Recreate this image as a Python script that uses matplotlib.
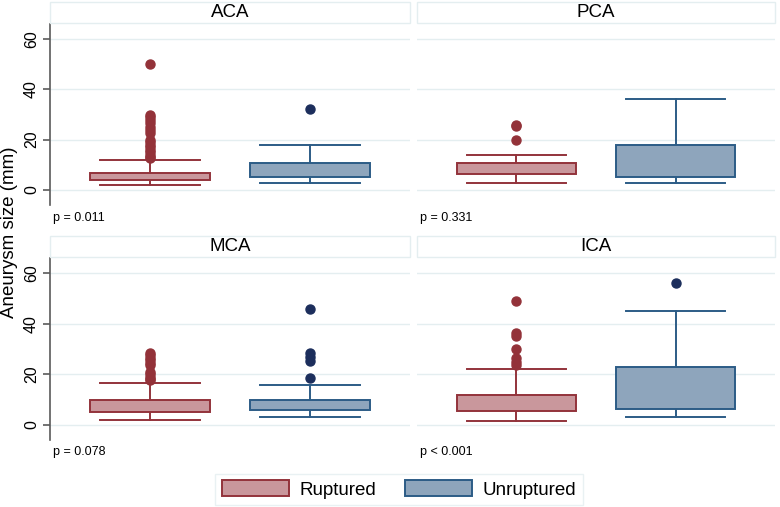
import matplotlib.pyplot as plt
from matplotlib.patches import Patch, Rectangle

plt.rcParams['font.family'] = ['Liberation Sans', 'DejaVu Sans']

# datos (mm)
regiones = ['ACA', 'PCA', 'MCA', 'ICA']
p_valores = ['p = 0.011', 'p = 0.331', 'p = 0.078', 'p < 0.001']

rot_q1 = [4.0, 6.5, 5.0, 5.3]
rot_med = [5.4, 7.8, 6.2, 8.2]
rot_q3 = [6.9, 10.7, 9.8, 11.9]
rot_lo = [1.9, 2.9, 2.0, 1.6]
rot_hi = [12.0, 13.9, 16.5, 22.2]
rot_out = [
    [50, 30, 29, 28, 26.5, 25, 24, 22.5, 20, 19, 18, 17, 16, 15, 14, 13, 12.5],
    [26, 25.3, 19.8],
    [28.5, 27.7, 26.5, 25.5, 24.5, 23.5, 21, 20, 19, 18.3, 17.6],
    [49, 36.3, 35, 30, 26.4, 25, 23.5],
]

unr_q1 = [5.0, 5.3, 5.7, 6.2]
unr_med = [7.5, 10.4, 8.2, 12.1]
unr_q3 = [10.6, 17.8, 9.9, 22.8]
unr_lo = [2.6, 2.6, 3.0, 3.0]
unr_hi = [17.8, 36.3, 15.6, 45.1]
unr_out = [[32], [], [46, 28.4, 27, 25.2, 18.7], [56]]

rojo_borde = '#93333b'
rojo_relleno = '#c9979c'
rojo_punto = '#933239'
azul_borde = '#2c5c86'
azul_relleno = '#8ea5bc'
azul_punto = '#1c2e5c'
gris_claro = '#e4eef0'

W, H = 780, 507
fig = plt.figure(figsize=(W / 100, H / 100), dpi=100)


def fx(px):
    return px / W


def fy(py):
    return 1 - py / H


# posiciones de paneles en pixeles: (x0, x1, y0, y1, y_titulo0, y_titulo1, y_p)
paneles = [
    (50, 410, 24, 205, 2, 23, 218),
    (417, 775, 24, 205, 2, 23, 218),
    (50, 410, 258, 440, 236, 257, 452),
    (417, 775, 258, 440, 236, 257, 452),
]

for i, (x0, x1, y0, y1, t0, t1, yp) in enumerate(paneles):
    ax = fig.add_axes([fx(x0), fy(y1), fx(x1 - x0), (y1 - y0) / H])

    stats = [
        dict(q1=rot_q1[i], med=rot_med[i], q3=rot_q3[i],
             whislo=rot_lo[i], whishi=rot_hi[i], fliers=rot_out[i]),
        dict(q1=unr_q1[i], med=unr_med[i], q3=unr_q3[i],
             whislo=unr_lo[i], whishi=unr_hi[i], fliers=unr_out[i]),
    ]
    bordes = [rojo_borde, azul_borde]
    rellenos = [rojo_relleno, azul_relleno]
    puntos = [rojo_punto, azul_punto]

    for j in range(2):
        r = ax.bxp([stats[j]], positions=[j + 1], widths=0.75, patch_artist=True,
                   capwidths=0.625, manage_ticks=False,
                   boxprops=dict(facecolor=rellenos[j], edgecolor=bordes[j], linewidth=1.4),
                   medianprops=dict(color=bordes[j], linewidth=1.4),
                   whiskerprops=dict(color=bordes[j], linewidth=1.4),
                   capprops=dict(color=bordes[j], linewidth=1.4),
                   flierprops=dict(marker='o', markersize=6.5, markerfacecolor=puntos[j],
                                   markeredgecolor=puntos[j]))
        for b in r['boxes']:
            b.set_zorder(3)

    ax.set_xlim(0.375, 2.625)
    ax.set_ylim(-6, 66)
    ax.set_yticks([0, 20, 40, 60])
    ax.grid(axis='y', color=gris_claro, linewidth=1)
    ax.set_axisbelow(True)
    ax.set_xticks([])
    for s in ['top', 'right', 'bottom']:
        ax.spines[s].set_visible(False)
    if i % 2 == 0:
        ax.spines['left'].set_color('#5a5a5a')
        ax.spines['left'].set_linewidth(1.2)
        ax.tick_params(axis='y', length=5, width=1.2, color='#5a5a5a',
                       labelsize=11.5, pad=3)
        for lab in ax.get_yticklabels():
            lab.set_rotation(90)
            lab.set_va('center')
    else:
        ax.spines['left'].set_visible(False)
        ax.tick_params(axis='y', length=0, labelleft=False)

    # franja de título
    fig.patches.append(Rectangle((fx(x0), fy(t1)), fx(x1 - x0), (t1 - t0) / H,
                                 transform=fig.transFigure, facecolor='white',
                                 edgecolor=gris_claro, linewidth=1))
    fig.text(fx((x0 + x1) / 2), fy((t0 + t1) / 2), regiones[i], ha='center',
             va='center', fontsize=13.5)
    fig.text(fx(x0 + 3), fy(yp), p_valores[i], ha='left', va='center', fontsize=9)

fig.text(fx(10), fy(232), 'Aneurysm size (mm)', rotation=90, ha='center',
         va='center', fontsize=13.5)

handles = [Patch(facecolor=rojo_relleno, edgecolor=rojo_borde, linewidth=1.4, label='Ruptured'),
           Patch(facecolor=azul_relleno, edgecolor=azul_borde, linewidth=1.4, label='Unruptured')]
leg = fig.legend(handles=handles, loc='center', bbox_to_anchor=(fx(399), fy(489.5)),
                 ncol=2, fontsize=13.5, frameon=True, fancybox=False,
                 handlelength=3.6, handleheight=0.9, handletextpad=0.55,
                 columnspacing=1.5, borderpad=0.35)
leg.get_frame().set_edgecolor(gris_claro)
leg.get_frame().set_linewidth(1)

fig.savefig('out.png', dpi=100)
